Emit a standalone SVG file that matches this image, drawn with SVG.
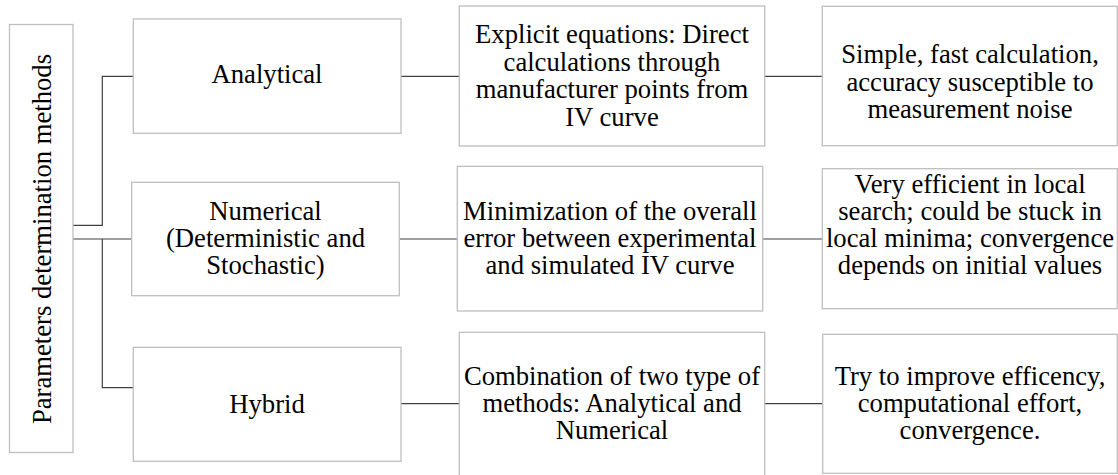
<svg xmlns="http://www.w3.org/2000/svg" width="1118" height="475" viewBox="0 0 1118 475">
<style>
.box{fill:#ffffff;stroke:#bfbfbf;stroke-width:1.3}
text{font-family:'Liberation Serif','Times New Roman',serif;font-size:26.67px;fill:#000000;text-anchor:middle}
.c{fill:none;stroke:#404040;stroke-width:1.2}
</style>
<rect width="1118" height="475" fill="#ffffff"/>
<g id="connectors">
<polyline class="c" points="73,225.3 102.3,225.3 102.3,76.3 133.3,76.3"/>
<line class="c" x1="73" y1="239" x2="131.7" y2="239"/>
<polyline class="c" points="102.3,239 102.3,387.7 133.3,387.7"/>
<line class="c" x1="401" y1="76.3" x2="459.3" y2="76.3"/>
<line class="c" x1="764.7" y1="76.3" x2="822.3" y2="76.3"/>
<line class="c" x1="399.3" y1="239" x2="457.3" y2="239"/>
<line class="c" x1="762.7" y1="239" x2="822.3" y2="239"/>
<line class="c" x1="401" y1="403.7" x2="459.3" y2="403.7"/>
<line class="c" x1="764.7" y1="403.7" x2="822.7" y2="403.7"/>
</g>
<g id="root">
<rect class="box" x="9.5" y="24.5" width="63.5" height="428"/>
<text transform="translate(50.5,239) rotate(-90)">Parameters determination methods</text>
</g>
<g id="analytical">
<rect class="box" x="133.3" y="19" width="267.7" height="114.3"/>
<text x="267" y="83.3">Analytical</text>
</g>
<g id="numerical">
<rect class="box" x="131.7" y="182.3" width="267.6" height="113.4"/>
<text x="265.5" y="220">Numerical</text>
<text x="265.5" y="246.7">(Deterministic and</text>
<text x="265.5" y="274.3">Stochastic)</text>
</g>
<g id="hybrid">
<rect class="box" x="133.3" y="347.3" width="267.7" height="114"/>
<text x="267" y="412.7">Hybrid</text>
</g>
<g id="explicit">
<rect class="box" x="459.3" y="6" width="305.4" height="140"/>
<text x="612" y="42.7">Explicit equations: Direct</text>
<text x="612" y="71">calculations through</text>
<text x="612" y="98.3">manufacturer points from</text>
<text x="612" y="125.7">IV curve</text>
</g>
<g id="minimization">
<rect class="box" x="457.3" y="166.3" width="305.4" height="144.7"/>
<text x="610" y="220">Minimization of the overall</text>
<text x="610" y="246.7">error between experimental</text>
<text x="610" y="274.3">and simulated IV curve</text>
</g>
<g id="combination">
<rect class="box" x="459.3" y="332.3" width="305.4" height="150"/>
<text x="612" y="385">Combination of two type of</text>
<text x="612" y="412.3">methods: Analytical and</text>
<text x="612" y="439.3">Numerical</text>
</g>
<g id="simple">
<rect class="box" x="822.3" y="6.3" width="295" height="139.4"/>
<text x="970" y="63.3">Simple, fast calculation,</text>
<text x="970" y="90.5">accuracy susceptible to</text>
<text x="970" y="118.3">measurement noise</text>
</g>
<g id="efficient">
<rect class="box" x="822.3" y="168.7" width="295" height="140"/>
<text x="970" y="193.3">Very efficient in local</text>
<text x="970" y="220">search; could be stuck in</text>
<text x="970" y="246.7">local minima; convergence</text>
<text x="970" y="274.3">depends on initial values</text>
</g>
<g id="improve">
<rect class="box" x="822.7" y="334.3" width="294.6" height="139"/>
<text x="970" y="385">Try to improve efficency,</text>
<text x="970" y="412.3">computational effort,</text>
<text x="970" y="439.3">convergence.</text>
</g>
</svg>
